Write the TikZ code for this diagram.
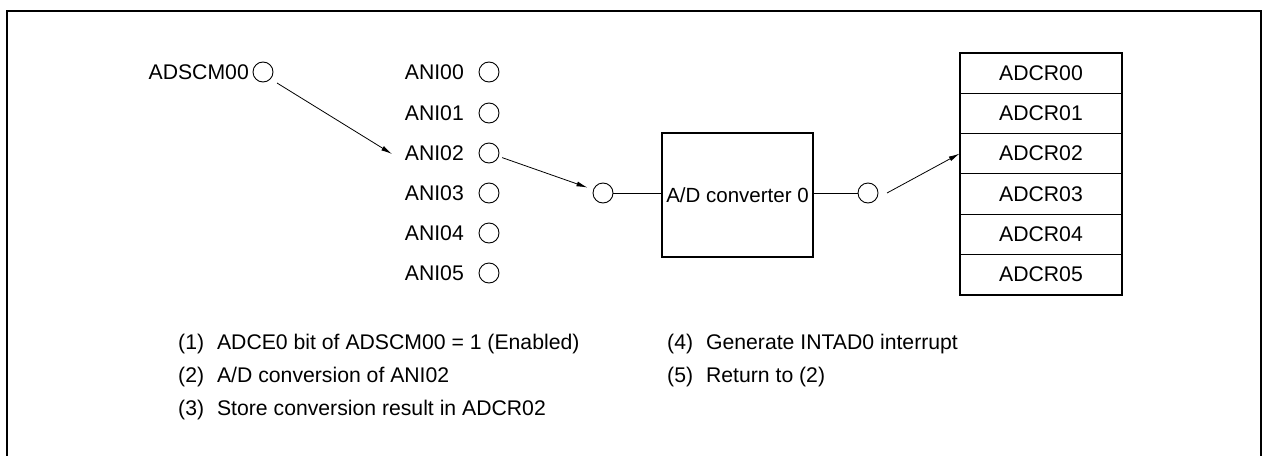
\documentclass[tikz,border=0pt]{standalone}
\usepackage{fontspec}
\setmainfont{Liberation Sans}
\usetikzlibrary{arrows.meta}
\begin{document}
\begin{tikzpicture}[x=1pt,y=-1pt,
 lbl/.style={inner sep=0pt, font=\fontsize{21.2}{25}\selectfont},
 pin/.style={circle, draw, line width=0.9pt, minimum size=20pt, inner sep=0pt},
 conn/.style={line width=0.8pt},
 arr/.style={conn, -{Latex[length=11pt,width=5pt]}},
 cell/.style={draw, line width=0.7pt, minimum width=162pt, minimum height=40.3pt, inner sep=0pt, font=\fontsize{21.2}{25}\selectfont},
 adbox/.style={draw, line width=2pt, minimum width=151pt, minimum height=124pt, inner sep=0pt, font=\fontsize{20.5}{24}\selectfont},
 frame/.style={line width=2.2pt}
]
\useasboundingbox (0,0) rectangle (1268,455);
\draw[frame] (7,470) -- (7,11) -- (1261,11) -- (1261,470);

% ADSCM00
\node[lbl, anchor=base east] (adscm) at (249,79.6) {ADSCM00};
\node[pin] (adscmC) at (263,72) {};

% ANI pins
\foreach \i/\y in {0/72,1/113,2/153,3/193,4/233,5/273}{
  \node[lbl, anchor=base east] (ani\i) at (464,\y+7.6) {ANI0\i};
  \node[pin] (ani\i C) at (489,\y) {};
}

% A/D converter
\node[pin] (inC) at (603,193) {};
\node[adbox] (adc) at (737.5,195) {A/D converter 0};
\node[pin] (outC) at (868,193) {};

% ADCR table
\foreach \i/\y in {0/73,1/113.3,2/153.6,3/193.9,4/234.2,5/274.5}{
  \node[cell] (r\i) at (1041,\y) {ADCR0\i};
}
\draw[line width=2pt] (r0.north west) rectangle (r5.south east);

% connectors
\coordinate (a1s) at (277,83);
\coordinate (a1e) at (392,154);
\draw[arr] (a1s) -- (a1e);
\draw[arr, shorten <=3.5pt, shorten >=6pt] (ani2C) -- (inC);
\draw[conn] (inC) -- (adc.west |- inC);
\draw[conn] (adc.east |- outC) -- (outC);
\coordinate (a3s) at (887,193);
\draw[arr] (a3s) -- (r2.west);

% notes
\begin{scope}[every node/.style={lbl, anchor=base west}]
\node (n1) at (178,349) {(1)\hspace{13pt}ADCE0 bit of ADSCM00 = 1 (Enabled)};
\node (n2) at (178,382) {(2)\hspace{13pt}A/D conversion of ANI02};
\node (n3) at (178,415) {(3)\hspace{13pt}Store conversion result in ADCR02};
\node (n4) at (667,349) {(4)\hspace{13pt}Generate INTAD0 interrupt};
\node (n5) at (667,382) {(5)\hspace{13pt}Return to (2)};
\end{scope}
\end{tikzpicture}
\end{document}
